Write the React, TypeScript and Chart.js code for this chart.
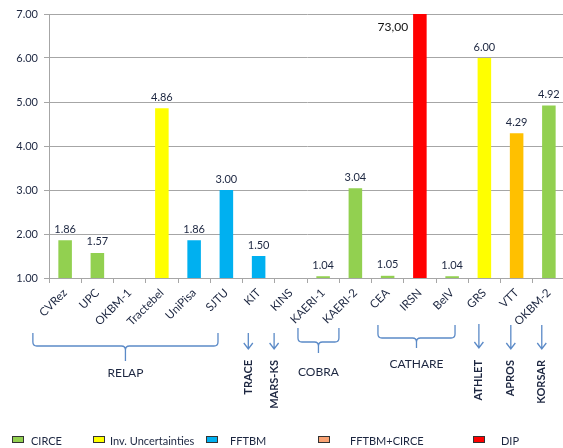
import React, { useEffect, useRef } from "react";
import { Chart, registerables } from "chart.js";

Chart.register(...registerables);

const categories = ["CVRez", "UPC", "OKBM-1", "Tractebel", "UniPisa", "SJTU", "KIT", "KINS", "KAERI-1", "KAERI-2", "CEA", "IRSN", "BelV", "GRS", "VTT", "OKBM-2"];
const values: (number | null)[] = [1.86, 1.57, null, 4.86, 1.86, 3.0, 1.5, null, 1.04, 3.04, 1.05, 73.0, 1.04, 6.0, 4.29, 4.92];
const barColors = ["#92D050", "#92D050", "#92D050", "#FFFF00", "#00B0F0", "#00B0F0", "#00B0F0", "#00B0F0", "#92D050", "#92D050", "#92D050", "#FF0000", "#92D050", "#FFFF00", "#FFC000", "#92D050"];

const yMin = 1;
const yMax = 7;

const legendLabels = ["CIRCE", "Inv. Uncertainties", "FFTBM", "FFTBM+CIRCE", "DIP"];
const legendColors = ["#92D050", "#FFFF00", "#00B0F0", "#F9A273", "#FF0000"];
const legendSwatchX = [12, 93, 206, 318, 473];
const legendTextX = [31, 110, 230, 350, 501];

// code groups (braces) in category units
const groupNames = ["RELAP", "COBRA", "CATHARE"];
const groupFrom = [-1.0, 7.22, 9.7];
const groupTo = [4.74, 8.49, 12.09];
const groupTop = [333, 328, 325];
const groupMid = [346, 342, 338];
const groupBottom = [361, 353, 348];
const groupTextY = [373, 372, 364];

// single codes (arrows) in category units
const arrowNames = ["TRACE", "MARS-KS", "ATHLET", "APROS", "KORSAR"];
const arrowAt = [5.68, 6.48, 12.83, 13.82, 14.78];
const arrowTop = [333, 333, 324, 325, 325];
const arrowTip = [349, 349, 348, 349, 349];

const TEXT = "#1C2640";
const ANNOT = "#5B8AC7";

const annotationPlugin = {
  id: "annotations",
  afterDraw(chart: any) {
    const ctx = chart.ctx as CanvasRenderingContext2D;
    const xs = chart.scales.x;
    const area = chart.chartArea;
    ctx.save();

    // data labels
    const meta = chart.getDatasetMeta(0);
    meta.data.forEach((bar: any, i: number) => {
      const v = values[i];
      if (v == null) return;
      const { x, y, width } = bar.getProps(["x", "y", "width"], true);
      if (v > yMax) {
        ctx.font = "12px Lato";
        ctx.fillStyle = "#111111";
        ctx.textAlign = "right";
        ctx.textBaseline = "middle";
        ctx.fillText(v.toFixed(2).replace(".", ","), x - width / 2 - 5, area.top + 13);
      } else {
        ctx.font = "11px Lato";
        ctx.fillStyle = TEXT;
        ctx.textAlign = "center";
        ctx.textBaseline = "middle";
        ctx.fillText(v.toFixed(2), x, y - 11);
      }
    });

    // braces
    ctx.strokeStyle = ANNOT;
    ctx.lineWidth = 1.3;
    groupNames.forEach((name, i) => {
      const xl = xs.getPixelForValue(groupFrom[i]);
      const xr = xs.getPixelForValue(groupTo[i]);
      const xc = (xl + xr) / 2;
      const t = groupTop[i], m = groupMid[i], b = groupBottom[i];
      const r = 4;
      ctx.beginPath();
      ctx.moveTo(xl, t);
      ctx.lineTo(xl, m - r);
      ctx.quadraticCurveTo(xl, m, xl + r, m);
      ctx.lineTo(xc - r, m);
      ctx.quadraticCurveTo(xc, m, xc, m + r);
      ctx.lineTo(xc, b);
      ctx.moveTo(xr, t);
      ctx.lineTo(xr, m - r);
      ctx.quadraticCurveTo(xr, m, xr - r, m);
      ctx.lineTo(xc + r, m);
      ctx.quadraticCurveTo(xc, m, xc, m + r);
      ctx.stroke();
      ctx.font = "12px Lato";
      ctx.fillStyle = TEXT;
      ctx.textAlign = "center";
      ctx.textBaseline = "middle";
      ctx.fillText(name, xc, groupTextY[i]);
    });

    // arrows
    arrowNames.forEach((name, i) => {
      const x = xs.getPixelForValue(arrowAt[i]);
      ctx.beginPath();
      ctx.moveTo(x, arrowTop[i]);
      ctx.lineTo(x, arrowTip[i]);
      ctx.moveTo(x - 4.5, arrowTip[i] - 6);
      ctx.lineTo(x, arrowTip[i]);
      ctx.lineTo(x + 4.5, arrowTip[i] - 6);
      ctx.stroke();
      ctx.save();
      ctx.translate(x, 360);
      ctx.rotate(-Math.PI / 2);
      ctx.font = "bold 11px Lato";
      ctx.fillStyle = TEXT;
      ctx.textAlign = "right";
      ctx.textBaseline = "middle";
      ctx.fillText(name, 0, 0);
      ctx.restore();
    });

    // legend
    legendLabels.forEach((lab, i) => {
      ctx.fillStyle = legendColors[i];
      ctx.fillRect(legendSwatchX[i], 436, 11, 6);
      ctx.strokeStyle = "#333333";
      ctx.lineWidth = 1;
      ctx.strokeRect(legendSwatchX[i] + 0.5, 436.5, 11, 6);
      ctx.font = "11px Lato";
      ctx.fillStyle = TEXT;
      ctx.textAlign = "left";
      ctx.textBaseline = "middle";
      ctx.fillText(lab, legendTextX[i], 441);
    });

    ctx.restore();
  },
};

export default function App() {
  const ref = useRef<HTMLCanvasElement>(null);
  useEffect(() => {
    if (!ref.current) return;
    const chart = new Chart(ref.current, {
      type: "bar",
      data: {
        labels: categories,
        datasets: [
          {
            data: values,
            backgroundColor: barColors,
            borderWidth: 0,
            barPercentage: 0.42,
            categoryPercentage: 1,
          },
        ],
      },
      options: {
        responsive: false,
        animation: false,
        layout: { padding: { top: 14, left: 0, right: 1, bottom: 0 } },
        plugins: { legend: { display: false }, tooltip: { enabled: false } },
        scales: {
          x: {
            grid: {
              drawOnChartArea: false,
              drawTicks: true,
              tickLength: 5,
              offset: true,
              color: "#A6A6A6",
            },
            border: { color: "#A6A6A6" },
            ticks: {
              autoSkip: false,
              minRotation: 45,
              maxRotation: 45,
              padding: 3,
              color: TEXT,
              font: { family: "Lato", size: 11.5 },
            },
            afterFit: (s: any) => {
              s.height = 170;
            },
          },
          y: {
            min: yMin,
            max: yMax,
            ticks: {
              stepSize: 1,
              padding: 6,
              color: TEXT,
              font: { family: "Lato", size: 11 },
              callback: (v: any) => Number(v).toFixed(2),
            },
            grid: { color: "#A6A6A6", tickLength: 5 },
            border: { color: "#A6A6A6" },
            afterFit: (s: any) => {
              s.width = 49;
            },
          },
        },
      },
      plugins: [annotationPlugin],
    });
    return () => chart.destroy();
  }, []);
  return (
    <div style={{ position: "fixed", left: 0, top: 0, width: 563, height: 448, overflow: "hidden", background: "#fff" }}>
      <canvas ref={ref} width={566} height={448} style={{ display: "block" }} />
    </div>
  );
}
